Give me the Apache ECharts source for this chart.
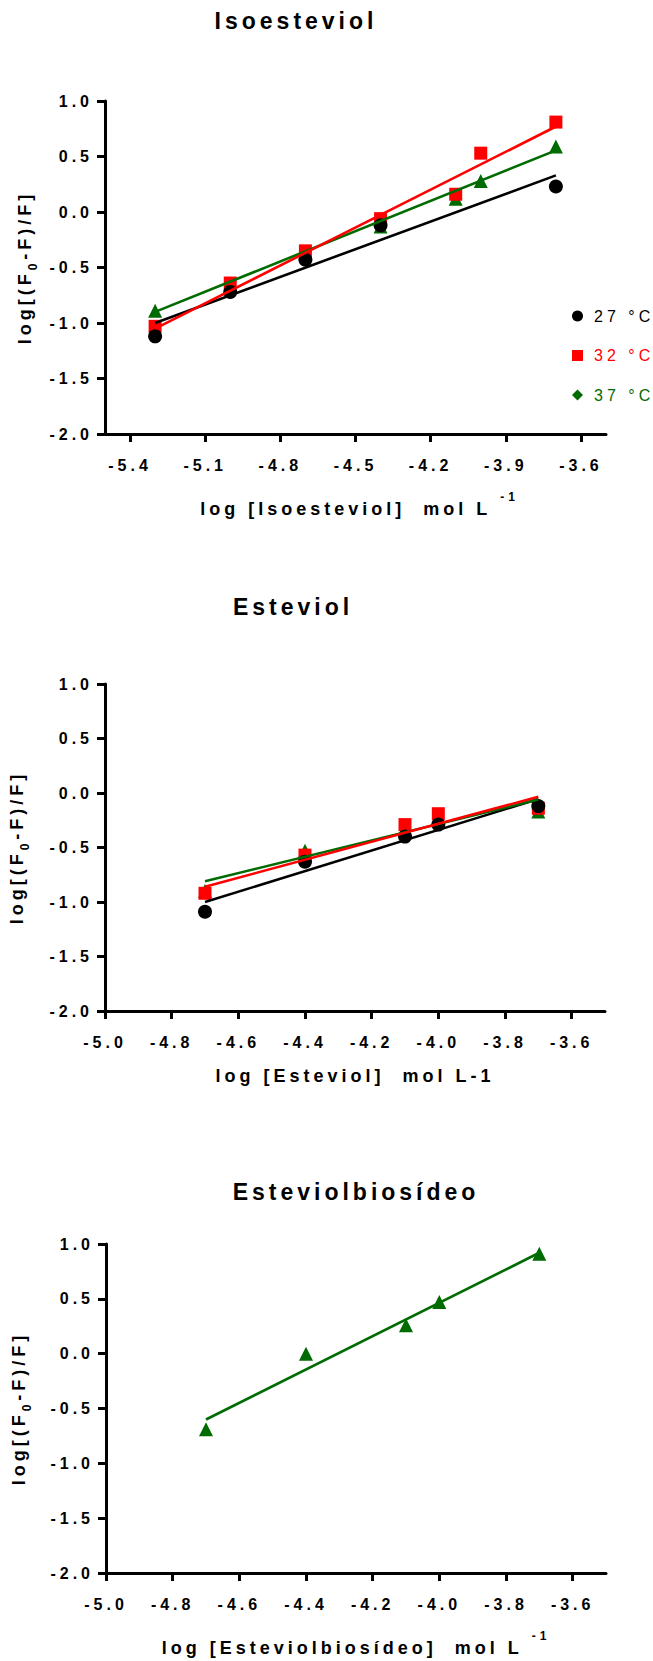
<!DOCTYPE html>
<html>
<head>
<meta charset="utf-8">
<title>log[(F0-F)/F] vs log concentration</title>
<script src="https://cdn.jsdelivr.net/npm/echarts@6/dist/echarts.min.js"></script>
<style>
  html, body { margin: 0; padding: 0; background: #ffffff; }
  #chart { width: 653px; height: 1661px; }
  /* wide tracking on every label */
  #chart text { letter-spacing: 4px; }
</style>
</head>
<body>
<div id="chart"></div>
<script>
// ---- Isoesteviol ----
const isoX     = [-5.3, -5.0, -4.7, -4.4, -4.1, -4.0, -3.7];
const iso27    = [-1.12, -0.72, -0.43, -0.12, null, null, 0.23];
const iso32    = [-1.03, -0.64, -0.35, -0.06, 0.16, 0.53, 0.81];
const iso37    = [-0.89, -0.67, -0.37, -0.13, 0.12, 0.28, 0.59];
const isoFitX  = [-5.3, -3.7];
const isoFit27 = [-1.00, 0.33];
const isoFit32 = [-1.05, 0.77];
const isoFit37 = [-0.90, 0.555];

// ---- Esteviol ----
const estX     = [-4.7, -4.4, -4.1, -4.0, -3.7];
const est27    = [-1.09, -0.63, -0.40, -0.29, -0.12];
const est32    = [-0.92, -0.57, -0.29, -0.19, -0.14];
const est37    = [-0.90, -0.53, -0.33, -0.25, -0.17];
const estFitX  = [-4.7, -3.7];
const estFit27 = [-1.00, -0.055];
const estFit32 = [-0.86, -0.035];
const estFit37 = [-0.81, -0.06];

// ---- Esteviolbiosídeo ----
const ebX      = [-4.7, -4.4, -4.1, -4.0, -3.7];
const eb37     = [-0.69, 0.00, 0.26, 0.47, 0.91];
const ebFitX   = [-4.7, -3.7];
const ebFit37  = [-0.60, 0.92];

// ---- tick labels ----
const yTicks    = [-2.0, -1.5, -1.0, -0.5, 0.0, 0.5, 1.0];
const isoXTicks = [-5.4, -5.1, -4.8, -4.5, -4.2, -3.9, -3.6];
const estXTicks = [-5.0, -4.8, -4.6, -4.4, -4.2, -4.0, -3.8, -3.6];

const temps  = ['27 °C', '32 °C', '37 °C'];
const titles = ['Isoesteviol', 'Esteviol', 'Esteviolbiosídeo'];

const BLACK = '#000000', RED = '#ff0000', GREEN = '#006b00';
const FONT = "'Liberation Sans', Arial, Helvetica, sans-serif";
const SPACING_PX = 4;

// text measurement that accounts for the letter spacing set in CSS
const measureCtx = document.createElement('canvas').getContext('2d');
echarts.setPlatformAPI({
  measureText(text, font) {
    measureCtx.font = font || '12px sans-serif';
    const w = measureCtx.measureText(text).width;
    if (text === '国') return { width: w };
    return { width: w + Array.from(text).length * SPACING_PX };
  }
});

function pairs(xs, ys) {
  const out = [];
  xs.forEach((x, i) => { if (ys[i] != null) out.push([x, ys[i]]); });
  return out;
}

const fmt = v => Number(v).toFixed(1);

const richName = {
  n: { fontSize: 18, fontWeight: 'bold', fontFamily: FONT, color: '#000', lineHeight: 36 },
  s: { fontSize: 12, fontWeight: 'bold', fontFamily: FONT, color: '#000', lineHeight: 12,
       verticalAlign: 'top', padding: [0, 0, 0, 9] },
  b: { fontSize: 12, fontWeight: 'bold', fontFamily: FONT, color: '#000', lineHeight: 12,
       verticalAlign: 'bottom' },
  m: { fontSize: 18, fontWeight: 'bold', fontFamily: FONT, color: '#000', lineHeight: 28 }
};

function xAxis(gi, min, max, ticks, name, gap, shift) {
  return {
    type: 'value', gridIndex: gi, min: min, max: max,
    name: name, nameLocation: 'middle', nameGap: gap,
    nameTextStyle: { fontSize: 18, fontWeight: 'bold', fontFamily: FONT, color: '#000',
                     padding: [0, 0, 0, shift || 0], rich: richName },
    axisLine: { show: true, onZero: false, lineStyle: { color: '#000', width: 3 } },
    axisTick: { show: true, inside: false, length: 8, customValues: ticks,
                lineStyle: { color: '#000', width: 3 } },
    axisLabel: { show: true, customValues: ticks, formatter: fmt, margin: 23,
                 fontSize: 16, fontWeight: 'bold', fontFamily: FONT, color: '#000' },
    splitLine: { show: false }
  };
}

function yAxis(gi, gap) {
  return {
    type: 'value', gridIndex: gi, min: -2, max: 1, interval: 0.5,
    name: '{m|log[(F}{b|0}{m|-F)/F]}', nameLocation: 'middle', nameGap: gap,
    nameTextStyle: { fontSize: 18, fontWeight: 'bold', fontFamily: FONT, color: '#000', rich: richName },
    axisLine: { show: true, onZero: false, lineStyle: { color: '#000', width: 3 } },
    axisTick: { show: true, inside: false, length: 8, customValues: yTicks,
                lineStyle: { color: '#000', width: 3 } },
    axisLabel: { show: true, customValues: yTicks, formatter: fmt, margin: 12,
                 fontSize: 16, fontWeight: 'bold', fontFamily: FONT, color: '#000' },
    splitLine: { show: false }
  };
}

function points(gi, name, xs, ys, symbol, size, color) {
  return {
    type: 'scatter', name: name, xAxisIndex: gi, yAxisIndex: gi,
    symbol: symbol, symbolSize: size, itemStyle: { color: color, opacity: 1 },
    data: pairs(xs, ys), z: 3, silent: true
  };
}

function fit(gi, xs, ys, color) {
  return {
    type: 'line', xAxisIndex: gi, yAxisIndex: gi, showSymbol: false, symbol: 'none',
    lineStyle: { color: color, width: 2.6 }, data: pairs(xs, ys), z: 4, silent: true,
    animation: false
  };
}

function title(text, x, y) {
  return {
    type: 'text', x: x, y: y, silent: true,
    style: { text: text, fontSize: 23, fontWeight: 'bold', fontFamily: FONT, fill: '#000',
             align: 'center', verticalAlign: 'middle' }
  };
}

const chart = echarts.init(document.getElementById('chart'), null, { renderer: 'svg' });

chart.setOption({
  animation: false,
  backgroundColor: '#ffffff',
  textStyle: { fontFamily: FONT },
  graphic: [
    title(titles[0], 296, 21),
    title(titles[1], 293, 607),
    title(titles[2], 356, 1192)
  ],
  grid: [
    { left: 105, top: 101, width: 501, height: 333 },
    { left: 105, top: 684, width: 500, height: 327 },
    { left: 106, top: 1244, width: 500, height: 329 }
  ],
  xAxis: [
    xAxis(0, -5.5, -3.5, isoXTicks, '{n|log [Isoesteviol]  mol L}{s|-1}', 57, 8),
    xAxis(1, -5.0, -3.5, estXTicks, 'log [Esteviol]  mol L-1', 56),
    xAxis(2, -5.0, -3.5, estXTicks, '{n|log [Esteviolbiosídeo]  mol L}{s|-1}', 57)
  ],
  yAxis: [yAxis(0, 58), yAxis(1, 74), yAxis(2, 73)],
  legend: {
    orient: 'vertical', left: 567, top: 303, itemWidth: 11, itemHeight: 11, itemGap: 23.5,
    selectedMode: false,
    textStyle: { fontSize: 16, fontFamily: FONT, padding: [0, 0, 0, 6] },
    data: [
      { name: temps[0], icon: 'circle',  textStyle: { color: BLACK } },
      { name: temps[1], icon: 'rect',    textStyle: { color: RED } },
      { name: temps[2], icon: 'diamond', textStyle: { color: GREEN } }
    ]
  },
  series: [
    // Isoesteviol
    points(0, temps[2], isoX, iso37, 'triangle', 14, GREEN),
    points(0, temps[1], isoX, iso32, 'rect', 13, RED),
    points(0, temps[0], isoX, iso27, 'circle', 14, BLACK),
    fit(0, isoFitX, isoFit27, BLACK),
    fit(0, isoFitX, isoFit37, GREEN),
    fit(0, isoFitX, isoFit32, RED),
    // Esteviol
    points(1, 'Esteviol 37', estX, est37, 'triangle', 14, GREEN),
    points(1, 'Esteviol 32', estX, est32, 'rect', 13, RED),
    points(1, 'Esteviol 27', estX, est27, 'circle', 14, BLACK),
    fit(1, estFitX, estFit27, BLACK),
    fit(1, estFitX, estFit37, GREEN),
    fit(1, estFitX, estFit32, RED),
    // Esteviolbiosídeo
    points(2, 'Esteviolbiosídeo 37', ebX, eb37, 'triangle', 14, GREEN),
    fit(2, ebFitX, ebFit37, GREEN)
  ]
});
</script>
</body>
</html>
